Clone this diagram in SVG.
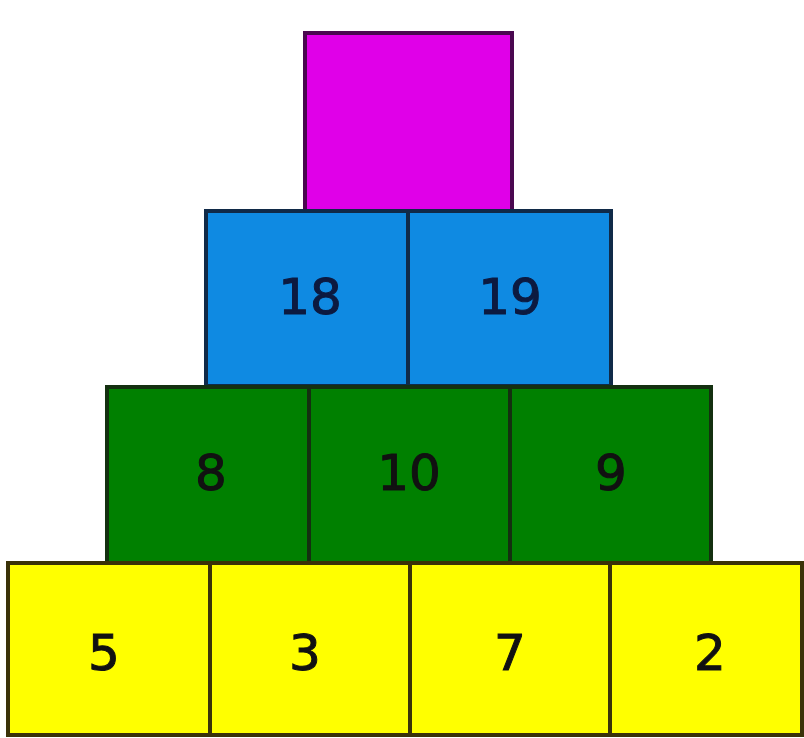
<svg xmlns="http://www.w3.org/2000/svg" width="804" height="738" viewBox="0 0 804 738">
<style>
.c{stroke-width:4}
.m{fill:#e000e8;stroke:#4a0850}
.b{fill:#0f8ae2;stroke:#102a48}
.g{fill:#008000;stroke:#143010}
.y{fill:#ffff00;stroke:#3a3208}
text{font-family:"Comic Sans MS","DejaVu Sans","Liberation Sans",sans-serif;font-size:50px;text-anchor:middle;dominant-baseline:central;fill:#111;stroke:#111;stroke-width:1}
.bt{fill:#0c1a40;stroke:#0c1a40}
</style>
<rect width="804" height="738" fill="#ffffff"/>
<g id="top"><rect class="c m" x="305" y="33" width="207" height="178"/></g>
<g id="b18"><rect class="c b" x="206" y="211" width="202" height="175"/><text class="bt" x="310" y="297">18</text></g>
<g id="b19"><rect class="c b" x="408" y="211" width="203" height="175"/><text class="bt" x="510" y="297">19</text></g>
<g id="g8"><rect class="c g" x="107" y="387" width="202" height="176"/><text x="211" y="473">8</text></g>
<g id="g10"><rect class="c g" x="309" y="387" width="201" height="176"/><text x="409" y="473">10</text></g>
<g id="g9"><rect class="c g" x="510" y="387" width="201" height="176"/><text x="611" y="473">9</text></g>
<g id="y5"><rect class="c y" x="8" y="563" width="202" height="172"/><text x="104" y="653">5</text></g>
<g id="y3"><rect class="c y" x="210" y="563" width="200" height="172"/><text x="305" y="653">3</text></g>
<g id="y7"><rect class="c y" x="410" y="563" width="200" height="172"/><text x="510" y="653">7</text></g>
<g id="y2"><rect class="c y" x="610" y="563" width="192" height="172"/><text x="710" y="653">2</text></g>
<g id="connectors"></g>
</svg>
